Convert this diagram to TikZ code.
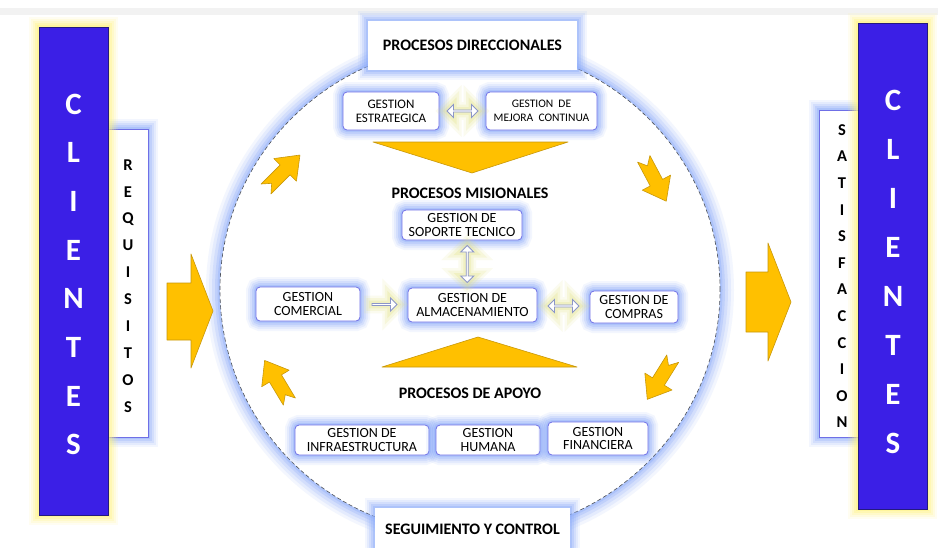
\documentclass[tikz,border=0pt]{standalone}
\usepackage{fontspec}
\setmainfont{Carlito}
\usetikzlibrary{shapes.arrows,shapes.geometric}
\definecolor{clblue}{HTML}{3B1FE6}
\definecolor{barline}{HTML}{241A80}
\definecolor{gold}{HTML}{FFC000}
\definecolor{goldline}{HTML}{C8980A}
\definecolor{glowb}{HTML}{8FAEFA}
\definecolor{glowy}{HTML}{FFF47A}
\definecolor{glowy2}{HTML}{E2E27C}
\definecolor{boxline}{HTML}{6F6FE6}
\definecolor{arrline}{HTML}{8C96C8}
\definecolor{dashgray}{HTML}{4A4F58}
\definecolor{topgray}{HTML}{F2F2F2}
\tikzset{
  glow/.style={preaction={draw=#1,line width=20pt,opacity=.1},
               preaction={draw=#1,line width=16pt,opacity=.15},
               preaction={draw=#1,line width=12pt,opacity=.2},
               preaction={draw=#1,line width=8pt,opacity=.28},
               preaction={draw=#1,line width=4pt,opacity=.38}},
  bigglow/.style={preaction={draw=#1,solid,line width=28pt,opacity=.1},
               preaction={draw=#1,solid,line width=22pt,opacity=.15},
               preaction={draw=#1,solid,line width=16pt,opacity=.2},
               preaction={draw=#1,solid,line width=10pt,opacity=.28},
               preaction={draw=#1,solid,line width=5pt,opacity=.38}},
  arrglow/.style={preaction={fill=#1,draw=#1,line width=16pt,opacity=.12},
               preaction={draw=#1,line width=11pt,opacity=.18},
               preaction={draw=#1,line width=6pt,opacity=.25}},
  clbar/.style={glow=glowy, draw=barline, line width=.8pt, fill=clblue, minimum width=69pt, inner sep=0pt},
  clletter/.style={text=white, font=\bfseries\fontsize{31}{31}\selectfont, inner sep=0pt},
  sidebox/.style={glow=glowb, draw=boxline, line width=1pt, fill=white, inner sep=0pt},
  sideletter/.style={font=\bfseries\fontsize{16.5}{16.5}\selectfont, inner sep=0pt},
  gbox/.style={glow=glowb, draw=boxline, line width=.8pt, fill=white, rounded corners=4pt, inner sep=0pt, align=center, font=\fontsize{14}{13.5}\selectfont},
  headbox/.style={glow=glowb, fill=white, inner sep=0pt, font=\bfseries\fontsize{16}{16}\selectfont},
  headtxt/.style={font=\bfseries\fontsize{16}{16}\selectfont, inner sep=0pt},
  goldshape/.style={fill=gold, draw=goldline, line width=.6pt, line join=round},
  wdarrow/.style={double arrow, arrglow=glowy2, fill=white, draw=arrline, line width=.9pt, minimum width=13pt, double arrow head extend=2.5pt, inner sep=0pt},
  wsarrow/.style={single arrow, arrglow=glowy2, fill=white, draw=arrline, line width=.9pt, minimum width=13pt, single arrow head extend=2.5pt, inner sep=0pt},
  notch/.pic={\path[goldshape] (-24,-7) -- (3,-7) -- (3,-16) -- (24,0) -- (3,16) -- (3,7) -- (-24,7) -- (-16,0) -- cycle;}
}
\begin{document}
\begin{tikzpicture}[x=1pt,y=-1pt]
\useasboundingbox (0,0) rectangle (938,547);
\fill[white] (0,0) rectangle (938,547);
\fill[topgray] (0,8) rectangle (938,15);

% central circle
\node[ellipse, bigglow=glowb, fill=white, draw=dashgray, line width=.6pt, dash pattern=on 4pt off 2.5pt,
      minimum width=500pt, minimum height=490pt, inner sep=0pt] (circ) at (470,290) {};

% left side
\node[sidebox, minimum width=40pt, minimum height=308pt] (reqbox) at (128,283) {};
\foreach \ch [count=\i] in {R,E,Q,U,I,S,I,T,O,S}
  \node[sideletter] (rq\i) at (128,{165+(\i-1)*26.9}) {\ch};
\node[clbar, minimum height=488pt] (clL) at (73.5,271) {};
\foreach \ch [count=\i] in {C,L,I,E,N,T,E,S}
  \node[clletter] (cl\i) at (73.5,{104+(\i-1)*48.7}) {\ch};

% right side
\node[sidebox, minimum width=39pt, minimum height=327pt] (satbox) at (838.5,273.5) {};
\foreach \ch [count=\i] in {S,A,T,I,S,F,A,C,C,I,O,N}
  \node[sideletter] (st\i) at (842,{130+(\i-1)*26.6}) {\ch};
\node[clbar, minimum height=486pt] (clR) at (892.5,266) {};
\foreach \ch [count=\i] in {C,L,I,E,N,T,E,S}
  \node[clletter] (cr\i) at (893,{100+(\i-1)*49}) {\ch};

% big arrows
\path[goldshape] (167,283) -- (191,283) -- (191,254) -- (213,311) -- (191,368) -- (191,340) -- (167,340) -- cycle;
\path[goldshape] (746,272) -- (768,272) -- (768,243) -- (791,302) -- (768,361) -- (768,332) -- (746,332) -- cycle;

% small notched arrows
\pic (na1) [rotate=45] at (283,172) {notch};
\pic (na2) [rotate=-62] at (655,180) {notch};
\pic (na3) [rotate=121] at (277,381) {notch};
\pic (na4) [rotate=-122] at (660,379) {notch};

% triangles
\path[goldshape] (373,142) -- (568,142) -- (472,173) -- cycle;
\path[goldshape] (382,367) -- (577,367) -- (478,337) -- cycle;

% headers
\node[headbox, minimum width=209pt, minimum height=49pt] (dir) at (472.5,45.5) {PROCESOS DIRECCIONALES};
\node[headbox, minimum width=195pt, minimum height=42pt] (seg) at (472.5,529) {SEGUIMIENTO Y CONTROL};
\node[headtxt] (mis) at (470,193) {PROCESOS MISIONALES};
\node[headtxt] (apo) at (470,393) {PROCESOS DE APOYO};

% boxes
\node[gbox, minimum width=96pt, minimum height=38pt, font=\fontsize{13}{14}\selectfont] (estr) at (391,111) {GESTION\\ESTRATEGICA};
\node[gbox, minimum width=111pt, minimum height=38pt, font=\fontsize{11.5}{14}\selectfont] (mej) at (541.5,111) {GESTION\ \ DE\\MEJORA\ \ CONTINUA};
\node[gbox, minimum width=120pt, minimum height=30pt] (sop) at (462,225) {GESTION DE\\SOPORTE TECNICO};
\node[gbox, minimum width=104pt, minimum height=34pt] (com) at (308,304) {GESTION\\COMERCIAL};
\node[gbox, minimum width=129pt, minimum height=34pt] (alm) at (472.5,305) {GESTION DE\\ALMACENAMIENTO};
\node[gbox, minimum width=88pt, minimum height=32pt] (cmp) at (634,307) {GESTION DE\\COMPRAS};
\node[gbox, minimum width=134pt, minimum height=30pt] (inf) at (362,440) {GESTION DE\\INFRAESTRUCTURA};
\node[gbox, minimum width=104pt, minimum height=30pt] (hum) at (488,440) {GESTION\\HUMANA};
\node[gbox, minimum width=100pt, minimum height=33pt] (fin) at (598,438.5) {GESTION\\FINANCIERA};

% white arrows between boxes
\path (estr.east) -- (mej.west) node[midway, wdarrow, minimum height=31pt] (a1) {};
\path (sop.south) -- (alm.north) node[midway, wdarrow, rotate=90, minimum height=37pt] (a2) {};
\path (com.east) -- (alm.west) node[midway, wsarrow, minimum height=25pt] (a3) {};
\path (alm.east) -- (cmp.west) node[midway, wdarrow, minimum height=31pt] (a4) {};
\end{tikzpicture}
\end{document}
